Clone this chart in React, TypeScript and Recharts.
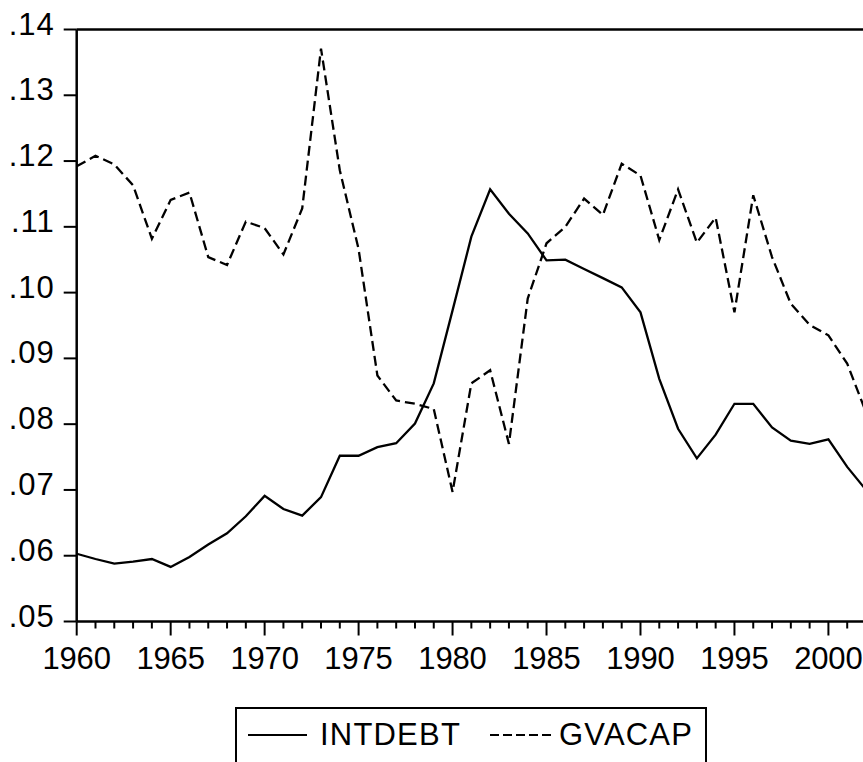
import React from 'react';
import { LineChart, Line, XAxis, YAxis, ReferenceLine } from 'recharts';

const years = [1960,1961,1962,1963,1964,1965,1966,1967,1968,1969,1970,1971,1972,1973,1974,1975,1976,1977,1978,1979,1980,1981,1982,1983,1984,1985,1986,1987,1988,1989,1990,1991,1992,1993,1994,1995,1996,1997,1998,1999,2000,2001,2002];
const intdebt = [.0603,.0595,.0588,.0591,.0595,.0583,.0598,.0617,.0634,.0660,.0691,.0671,.0661,.0689,.0752,.0752,.0765,.0771,.0801,.0862,.0973,.1085,.1157,.1120,.1090,.1049,.1050,.1036,.1022,.1008,.0970,.0869,.0793,.0748,.0784,.0831,.0831,.0795,.0775,.0770,.0777,.0735,.0700];
const gvacap = [.1192,.1208,.1195,.1163,.1082,.1141,.1152,.1054,.1042,.1108,.1098,.1058,.1128,.1371,.1186,.1066,.0874,.0836,.0831,.0823,.0697,.0862,.0882,.0770,.0991,.1075,.1100,.1143,.1118,.1196,.1178,.1080,.1157,.1076,.1114,.0970,.1148,.1054,.0983,.0951,.0935,.0892,.0818];
const yTicks = [0.05,0.06,0.07,0.08,0.09,0.10,0.11,0.12,0.13,0.14];
const seriesNames = ['INTDEBT', 'GVACAP'];

const data = years.map((yr, i) => ({ year: yr, INTDEBT: intdebt[i], GVACAP: gvacap[i] }));

const FONT = '"Liberation Sans", Arial, sans-serif';
const FS = 31;
const LS = 0.9;

const XTick = (props: any) => {
  const { x, y, payload } = props;
  const major = payload.value % 5 === 0;
  return (
    <g>
      <line x1={x} y1={y} x2={x} y2={y + (major ? 14 : 7)} stroke="#000" strokeWidth={2} />
      {major && (
        <text x={x} y={y + 47} textAnchor="middle" fontFamily={FONT} fontSize={FS} textLength={68.5} lengthAdjust="spacing" fill="#000">
          {payload.value}
        </text>
      )}
    </g>
  );
};

const YTick = (props: any) => {
  const { x, y, payload } = props;
  const label = payload.value.toFixed(2).replace(/^0/, '');
  return (
    <text x={x + LS} y={y + 5} textAnchor="end" fontFamily={FONT} fontSize={FS} letterSpacing={LS} fill="#000">
      {label}
    </text>
  );
};

export default function App() {
  return (
    <div style={{ position: 'absolute', left: 0, top: 0, width: 863, height: 762, overflow: 'hidden', background: '#fff' }}>
      <LineChart width={866} height={762} data={data} margin={{ top: 29.5, right: 0, left: 0, bottom: 80.5 }}>
        <XAxis
          dataKey="year"
          type="number"
          domain={[1960, 2002]}
          ticks={years}
          interval={0}
          tickSize={0}
          tickMargin={0}
          tickLine={false}
          axisLine={{ stroke: '#000', strokeWidth: 2.5 }}
          tick={<XTick />}
          height={60}
        />
        <YAxis
          type="number"
          domain={[0.05, 0.14]}
          ticks={yTicks}
          interval={0}
          width={76.7}
          tickSize={13}
          tickMargin={10}
          tickLine={{ stroke: '#000', strokeWidth: 2 }}
          axisLine={{ stroke: '#000', strokeWidth: 2.5 }}
          tick={<YTick />}
        />
        <ReferenceLine y={0.14} stroke="#000" strokeWidth={2.5} />
        <ReferenceLine x={2002} stroke="#000" strokeWidth={2.5} />
        <Line type="linear" dataKey="INTDEBT" stroke="#000" strokeWidth={2.3} dot={false} isAnimationActive={false} />
        <Line type="linear" dataKey="GVACAP" stroke="#000" strokeWidth={2.3} strokeDasharray="10 5" dot={false} isAnimationActive={false} />
      </LineChart>
      <div style={{ position: 'absolute', left: 235, top: 707, width: 472, height: 80, border: '2px solid #000', boxSizing: 'border-box' }} />
      <svg style={{ position: 'absolute', left: 0, top: 0 }} width={863} height={762} pointerEvents="none">
        <line x1={248} y1={735} x2={307} y2={735} stroke="#000" strokeWidth={2} />
        <text x={320} y={745} fontFamily={FONT} fontSize={FS} letterSpacing={1.2} fill="#000">{seriesNames[0]}</text>
        <line x1={490} y1={735} x2={553} y2={735} stroke="#000" strokeWidth={2} strokeDasharray="9 4" />
        <text x={559} y={745} fontFamily={FONT} fontSize={FS} letterSpacing={1.2} fill="#000">{seriesNames[1]}</text>
      </svg>
    </div>
  );
}
